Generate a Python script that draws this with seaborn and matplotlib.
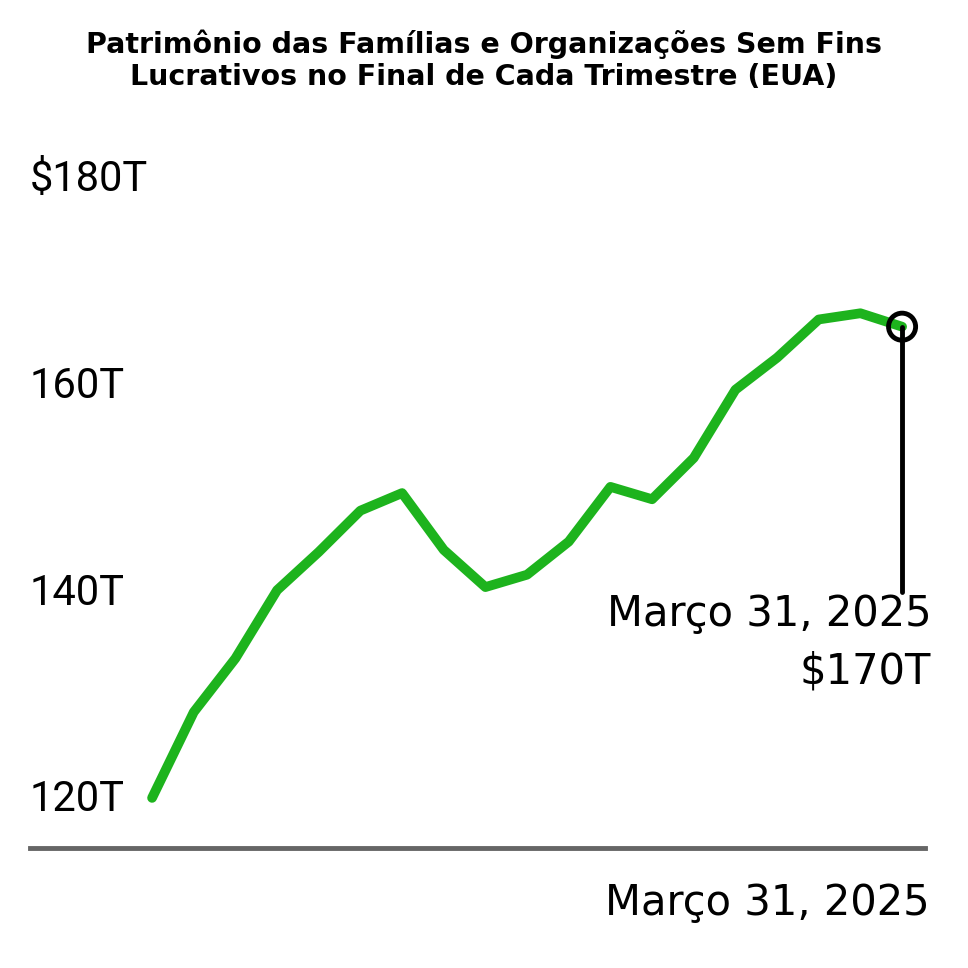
import matplotlib.pyplot as plt
import seaborn as sns
import pandas as pd

sns.set_theme(style="white")
plt.rcParams['font.family'] = ['Roboto', 'DejaVu Sans']
plt.rcParams['text.color'] = 'black'

trimestre = list(range(19))
patrimonio = [120.2, 128.5, 133.7, 140.3, 144.0, 148.0, 149.7, 144.2, 140.6, 141.8,
              145.0, 150.3, 149.1, 153.1, 159.7, 162.8, 166.5, 167.1, 165.8]
ticks = [120, 140, 160, 180]
tick_labels = ["120T", "140T", "160T", "$180T"]
df = pd.DataFrame({"t": trimestre, "v": patrimonio})

fig = plt.figure(figsize=(9.68, 9.68), dpi=100)
ax = fig.add_axes([30 / 968, 1 - 848 / 968, 895 / 968, 698 / 968])
sns.lineplot(data=df, x="t", y="v", color="#1db31d", linewidth=7, ax=ax)
ax.set_xlim(-2.93, 18.55)
ax.set_ylim(115.35, 182.9)

last = df.iloc[-1]
ax.plot([last.t, last.t], [140.1, last.v], color="black", lw=3.5, zorder=3)
ax.scatter([last.t], [last.v], s=380, facecolors="none", edgecolors="black", linewidths=3.5, zorder=4)
ax.text(18.7, 138.0, "Março 31, 2025", ha="right", va="center", fontsize=30, family="DejaVu Sans", color="black")
ax.text(18.7, 132.4, "$170T", ha="right", va="center", fontsize=30, family="DejaVu Sans", color="black")

for t, lab in zip(ticks, tick_labels):
    ax.text(-2.93, t, lab, ha="left", va="center", fontsize=30, color="black")

for s in ["top", "right", "left"]:
    ax.spines[s].set_visible(False)
ax.spines["bottom"].set_color("#666666")
ax.spines["bottom"].set_linewidth(3.5)
ax.set_xticks([])
ax.set_yticks([])
ax.set_xlabel("")
ax.set_ylabel("")

fig.text(930 / 968, 1 - 903 / 968, "Março 31, 2025", ha="right", va="center", fontsize=30,
         family="DejaVu Sans", color="black")
fig.text(0.5, 1 - 60 / 968, "Patrimônio das Famílias e Organizações Sem Fins\nLucrativos no Final de Cada Trimestre (EUA)",
         ha="center", va="center", fontsize=20.5, fontweight="bold", family="DejaVu Sans",
         color="black", linespacing=1.2)

fig.savefig("out.png", dpi=100)
